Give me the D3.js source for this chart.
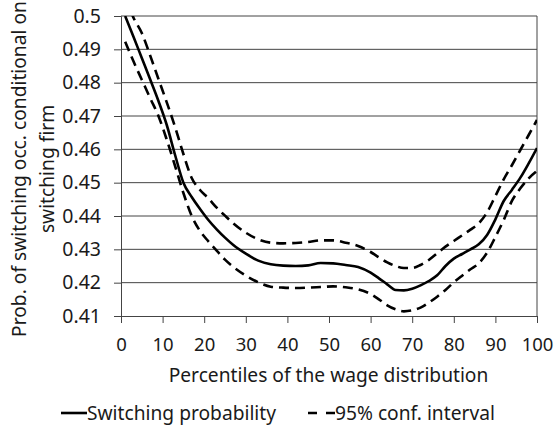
<!DOCTYPE html>
<html>
<head>
<meta charset="utf-8">
<script src="https://cdn.jsdelivr.net/npm/d3@7"></script>
<style>
  html, body { margin: 0; padding: 0; background: #fff; }
  svg text { font-family: "Noto Sans", "Open Sans", sans-serif; fill: #1a1a1a; }
</style>
</head>
<body>
<svg id="chart" width="558" height="430"></svg>
<script>
// ---- data ----
const percentiles = [1,3,5,7,9,11,13,15,17,19,21,23,25,27,30,33,36,39,42,45,48,51,54,57,60,62,64,66,68,70,72,74,76,78,80,82,84,86,88,90,92,94,96,98,100];
const switchingProb = [0.5000,0.4938,0.4874,0.4810,0.4745,0.4673,0.4583,0.4500,0.4457,0.4421,0.4388,0.4360,0.4335,0.4313,0.4287,0.4266,0.4255,0.4251,0.4250,0.4252,0.4259,0.4258,0.4253,0.4247,0.4230,0.4213,0.4195,0.4178,0.4177,0.4182,0.4192,0.4205,0.4222,0.4250,0.4272,0.4286,0.4300,0.4315,0.4343,0.4390,0.4445,0.4479,0.4515,0.4558,0.4604];
const upperCI = [0.5060,0.4995,0.4949,0.4882,0.4811,0.4741,0.4667,0.4586,0.4514,0.4478,0.4453,0.4425,0.4401,0.4378,0.4350,0.4330,0.4320,0.4318,0.4319,0.4322,0.4327,0.4327,0.4320,0.4310,0.4292,0.4276,0.4261,0.4250,0.4244,0.4244,0.4253,0.4268,0.4288,0.4308,0.4325,0.4342,0.4359,0.4378,0.4411,0.4460,0.4510,0.4553,0.4598,0.4643,0.4688];
const lowerCI = [0.4923,0.4864,0.4809,0.4754,0.4700,0.4629,0.4550,0.4469,0.4400,0.4355,0.4324,0.4296,0.4269,0.4247,0.4221,0.4201,0.4188,0.4185,0.4184,0.4185,0.4187,0.4189,0.4186,0.4180,0.4166,0.4150,0.4132,0.4120,0.4114,0.4117,0.4125,0.4140,0.4158,0.4178,0.4201,0.4221,0.4240,0.4258,0.4290,0.4337,0.4388,0.4446,0.4483,0.4513,0.4535];
const xTicks = [0,10,20,30,40,50,60,70,80,90,100];
const yTicks = [0.41,0.42,0.43,0.44,0.45,0.46,0.47,0.48,0.49,0.5];
const xTitle = "Percentiles of the wage distribution";
const yTitleLines = ["Prob. of switching occ. conditional on", "switching firm"];
const legendLabels = ["Switching probability", "95% conf. interval"];

// ---- layout ----
const svg = d3.select("#chart");
const plot = { left: 121, right: 537, top: 16, bottom: 316 };
const x = d3.scaleLinear().domain([0, 100]).range([plot.left, plot.right]);
const y = d3.scaleLinear().domain([0.41, 0.5]).range([plot.bottom, plot.top]);

svg.append("defs").append("clipPath").attr("id", "clip")
  .append("rect").attr("x", plot.left).attr("y", plot.top)
  .attr("width", plot.right - plot.left).attr("height", plot.bottom - plot.top);

// gridlines
svg.append("g").selectAll("line").data(yTicks.filter(d => d > 0.41)).join("line")
  .attr("x1", plot.left).attr("x2", plot.right)
  .attr("y1", d => y(d)).attr("y2", d => y(d))
  .attr("stroke", "#444").attr("stroke-width", 1);

// right border
svg.append("line").attr("x1", plot.right).attr("x2", plot.right)
  .attr("y1", plot.top).attr("y2", plot.bottom).attr("stroke", "#444");

// y axis
const yAxis = d3.axisLeft(y).tickValues(yTicks).tickSize(7).tickPadding(13)
  .tickFormat(d => d3.format("")(+d.toFixed(2)));
const gy = svg.append("g").attr("transform", `translate(${plot.left},0)`).call(yAxis);
gy.select(".domain").attr("stroke", "#444");
gy.selectAll(".tick line").attr("stroke", "#444");
gy.selectAll(".tick text").style("font-size", "19.5px").attr("fill", "#1a1a1a");

// x axis
const xAxis = d3.axisBottom(x).tickValues(xTicks).tickSize(7).tickPadding(15);
const gx = svg.append("g").attr("transform", `translate(0,${plot.bottom})`).call(xAxis);
gx.select(".domain").attr("stroke", "#444");
gx.selectAll(".tick line").attr("stroke", "#444");
gx.selectAll(".tick text").style("font-size", "18.5px").attr("fill", "#1a1a1a");

// lines
const line = arr => d3.line()
  .x((d, i) => x(percentiles[i]))
  .y(d => y(d))
  .curve(d3.curveMonotoneX)(arr);

const g = svg.append("g").attr("clip-path", "url(#clip)");
g.append("path").attr("d", line(upperCI)).attr("fill", "none")
  .attr("stroke", "#000").attr("stroke-width", 2.6).attr("stroke-dasharray", "10,6");
g.append("path").attr("d", line(lowerCI)).attr("fill", "none")
  .attr("stroke", "#000").attr("stroke-width", 2.6).attr("stroke-dasharray", "10,6");
g.append("path").attr("d", line(switchingProb)).attr("fill", "none")
  .attr("stroke", "#000").attr("stroke-width", 2.6);

// axis titles
svg.append("text").attr("x", 328.5).attr("y", 382)
  .attr("text-anchor", "middle").style("font-size", "19.2px").text(xTitle);

const yt = svg.append("text").attr("transform", "translate(0,169) rotate(-90)")
  .attr("text-anchor", "middle").style("font-size", "19.2px");
yt.append("tspan").attr("x", 0).attr("y", 26).text(yTitleLines[0]);
yt.append("tspan").attr("x", 0).attr("y", 54).text(yTitleLines[1]);

// legend
const lg = svg.append("g");
lg.append("line").attr("x1", 61).attr("x2", 87).attr("y1", 413).attr("y2", 413)
  .attr("stroke", "#000").attr("stroke-width", 2.6);
lg.append("text").attr("x", 87).attr("y", 419.5).style("font-size", "19.2px").text(legendLabels[0]);
lg.append("line").attr("x1", 308).attr("x2", 335).attr("y1", 413).attr("y2", 413)
  .attr("stroke", "#000").attr("stroke-width", 2.6).attr("stroke-dasharray", "9,9");
lg.append("text").attr("x", 335).attr("y", 419.5).style("font-size", "19.2px").text(legendLabels[1]);
</script>
</body>
</html>
